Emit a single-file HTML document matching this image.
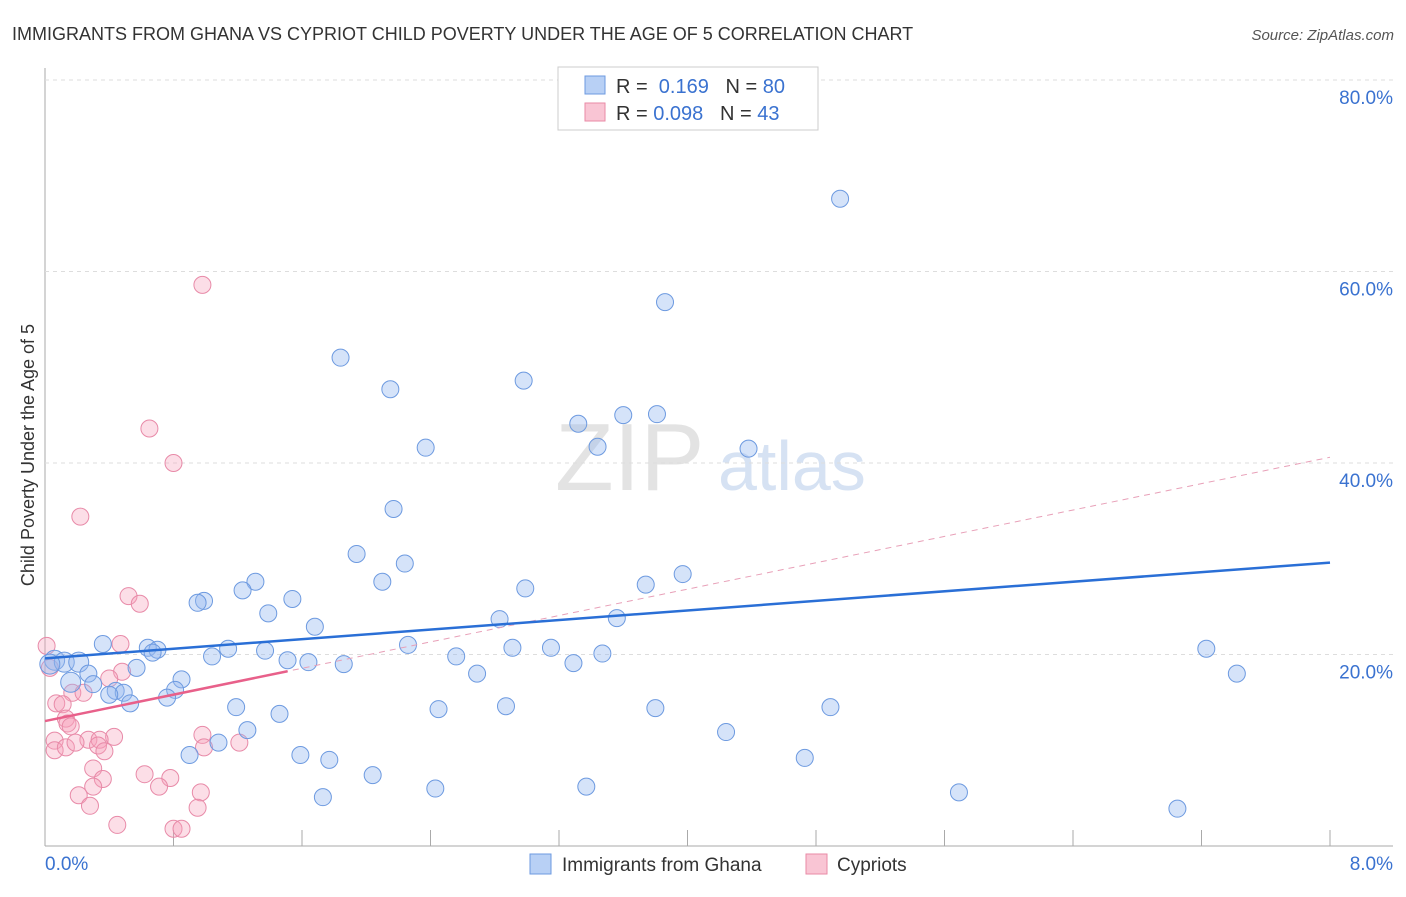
<!DOCTYPE html>
<html><head><meta charset="utf-8"><style>
body{margin:0;background:#fff;font-family:"Liberation Sans",sans-serif}
svg text{font-family:"Liberation Sans",sans-serif}
</style></head><body>
<svg id="c" width="1406" height="892" xmlns="http://www.w3.org/2000/svg">
<text x="12" y="40" font-size="18" fill="#333">IMMIGRANTS FROM GHANA VS CYPRIOT CHILD POVERTY UNDER THE AGE OF 5 CORRELATION CHART</text>
<text x="1394" y="40" font-size="15" fill="#555" font-style="italic" text-anchor="end">Source: ZipAtlas.com</text>
<text x="34" y="455" font-size="18" fill="#333" text-anchor="middle" transform="rotate(-90 34 455)">Child Poverty Under the Age of 5</text>
<text x="555" y="490" font-size="96" fill="#e3e3e3" font-family="Liberation Serif">ZIP</text>
<text x="718" y="490" font-size="70" fill="#d6e2f3">atlas</text>
<g id="grid"></g><g id="pts"></g><g id="trend"></g>
<g>
<rect x="558" y="67" width="260" height="63" fill="#fff" stroke="#ccc"/>
<rect x="585" y="76" width="20" height="18" fill="#b8d0f5" stroke="#6d9ae0"/>
<rect x="585" y="103" width="20" height="18" fill="#f9c5d4" stroke="#e98aa6"/>
<text x="616" y="93" font-size="20" fill="#333">R = <tspan fill="#3a72d0">&#160;0.169</tspan>&#160;&#160;&#160;N = <tspan fill="#3a72d0">80</tspan></text>
<text x="616" y="120" font-size="20" fill="#333">R = <tspan fill="#3a72d0">0.098</tspan>&#160;&#160;&#160;N = <tspan fill="#3a72d0">43</tspan></text>
</g>
<g>
<rect x="530" y="854" width="21" height="20" fill="#b8d0f5" stroke="#6d9ae0"/>
<text x="562" y="871" font-size="19" fill="#333">Immigrants from Ghana</text>
<rect x="806" y="854" width="21" height="20" fill="#f9c5d4" stroke="#e98aa6"/>
<text x="837" y="871" font-size="19" fill="#333">Cypriots</text>
</g>
</svg>
<script>
const blueX=[4.95,3.86,1.84,2.98,2.15,3.81,3.60,3.32,2.37,3.44,4.38,2.17,1.94,2.24,3.97,2.10,3.74,2.99,1.31,1.23,0.99,0.95,1.54,1.39,2.83,3.56,1.68,0.36,2.26,2.91,3.15,0.64,0.70,1.14,1.37,0.67,1.04,2.56,3.47,7.23,1.51,1.64,1.86,3.29,0.06,0.12,0.21,0.03,0.57,0.27,2.69,7.42,0.85,0.16,0.30,0.81,0.44,0.49,0.40,0.76,0.53,1.19,2.45,2.87,3.80,4.89,1.46,1.26,4.24,1.08,0.90,1.59,1.77,4.73,2.04,2.43,3.37,1.73,5.69,7.05];
const blueY=[67.6,56.8,51.0,48.6,47.7,45.1,45.0,44.1,41.6,41.7,41.5,35.2,30.5,29.5,28.4,27.6,27.3,26.9,27.6,26.7,25.6,25.4,25.8,24.3,23.7,23.8,22.9,21.1,21.0,20.7,20.7,20.7,20.5,20.6,20.4,20.2,19.8,19.8,20.1,20.6,19.4,19.2,19.0,19.1,19.4,19.2,19.2,19.0,18.6,18.0,18.0,18.0,17.4,17.1,16.9,16.3,16.2,16.0,15.8,15.5,14.9,14.5,14.3,14.6,14.4,14.5,13.8,12.1,11.9,10.8,9.5,9.5,9.0,9.2,7.4,6.0,6.2,5.1,5.6,3.9];
const pinkX=[0.98,0.65,0.80,0.22,0.52,0.59,0.01,0.47,0.03,0.48,0.40,0.17,0.24,0.07,0.11,0.13,0.14,0.16,0.98,0.43,0.27,0.34,0.33,0.06,0.06,0.13,0.19,0.37,0.99,1.21,0.30,0.62,0.78,0.36,0.71,0.30,0.97,0.21,0.28,0.95,0.45,0.80,0.85];
const pinkY=[58.6,43.6,40.0,34.4,26.1,25.3,20.9,21.1,18.6,18.2,17.5,16.0,16.0,14.9,14.8,13.3,12.8,12.5,11.6,11.4,11.1,11.1,10.5,11.0,10.0,10.3,10.8,9.9,10.3,10.8,8.1,7.5,7.1,7.0,6.2,6.2,5.6,5.3,4.2,4.0,2.2,1.8,1.8];
const yTicks=[20,40,60,80];
const xTicks=[0,0.8,1.6,2.4,3.2,4.0,4.8,5.6,6.4,7.2,8.0];
const blueTrend=[19.6,29.6];
const pinkTrend=[13.05,40.6];
const pinkSolidEnd=1.51;
const NS="http://www.w3.org/2000/svg";
const X=v=>45+v/8*1285, Y=v=>846-v/20*191.5;
function mk(t,a,p){const e=document.createElementNS(NS,t);for(const k in a)e.setAttribute(k,a[k]);p.appendChild(e);return e;}
const g=document.getElementById('grid');
const ax=mk('line',{x1:45,y1:68,x2:45,y2:846,stroke:'#aaa'},g);


const bx=mk('line',{x1:45,y1:846,x2:1393,y2:846,stroke:'#aaa'},g);


yTicks.forEach(t=>{
 const l=mk('line',{x1:45,y1:Y(t),x2:1393,y2:Y(t),stroke:'#ddd','stroke-dasharray':'4,4'},g);
 
 
 const tx=mk('text',{x:1393,y:Y(t)+24,'font-size':19,fill:'#3a72d0','text-anchor':'end'},g);
 tx.textContent=t.toFixed(1)+'%';
 
 
});
xTicks.forEach(t=>{
 const l=mk('line',{x1:X(t),y1:830,x2:X(t),y2:846,stroke:'#aaa'},g);
 
 
});
[[0,'start',45],[8,'end',1393]].forEach(([v,a,px])=>{
 const tx=mk('text',{x:px,y:870,'font-size':19,fill:'#3a72d0','text-anchor':a},g);
 tx.textContent=v.toFixed(1)+'%';
 
 
});
const P=document.getElementById('pts');
pinkX.forEach((v,i)=>{
 const c=mk('circle',{cx:X(v),cy:Y(pinkY[i]),r:8.5,fill:'rgba(245,160,185,0.35)',stroke:'#e88aa8','stroke-width':1},P);
 
 
});
blueX.forEach((v,i)=>{
 const c=mk('circle',{cx:X(v),cy:Y(blueY[i]),r:(v<0.25?10:8.5),fill:'rgba(150,185,240,0.4)',stroke:'#6d9ae0','stroke-width':1},P);
 
 
});
const T=document.getElementById('trend');
const pd=mk('line',{x1:X(0),y1:Y(pinkTrend[0]),x2:X(8),y2:Y(pinkTrend[1]),stroke:'#e8a0b8','stroke-dasharray':'6,5','stroke-width':1},T);


const ps=mk('line',{x1:X(0),y1:Y(pinkTrend[0]),x2:X(pinkSolidEnd),y2:Y(pinkTrend[0]+(pinkTrend[1]-pinkTrend[0])*pinkSolidEnd/8),stroke:'#e8608a','stroke-width':2.5},T);


const bl=mk('line',{x1:X(0),y1:Y(blueTrend[0]),x2:X(8),y2:Y(blueTrend[1]),stroke:'#2a6fd6','stroke-width':2.5},T);


</script>
</body></html>
